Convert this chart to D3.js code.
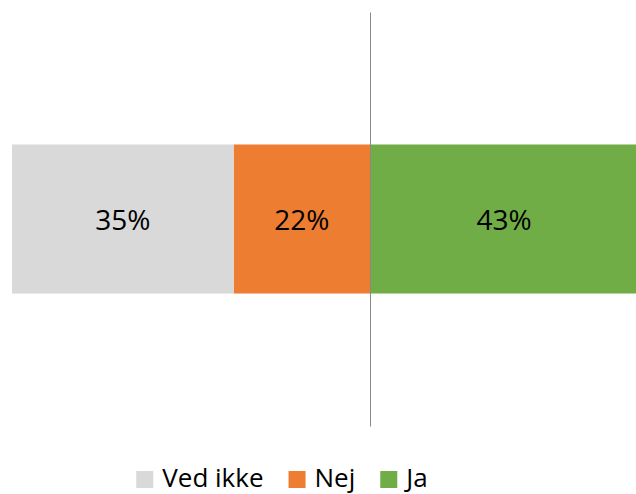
<!DOCTYPE html>
<html>
<head>
<meta charset="utf-8">
<script src="https://cdn.jsdelivr.net/npm/d3@7"></script>
<style>
  body { margin: 0; background: #fff; }
  svg { display: block; font-family: "Open Sans", sans-serif; }
</style>
</head>
<body>
<svg width="636" height="494"></svg>
<script>
// data
var categories = ["Ved ikke", "Nej", "Ja"];
var values = [35.4, 21.8, 42.8];
var labels = ["35%", "22%", "43%"];
var colors = ["#D9D9D9", "#ED7D31", "#70AD47"];
// Ved ikke and Nej go left of the axis, Ja goes right
var sides = [-1, -1, 1];

var svg = d3.select("svg");

// build stacked start/end for each segment
var segs = [];
var neg = 0, pos = 0;
// Nej sits next to the axis, Ved ikke outside it
[1, 0, 2].forEach(function(i) {
  var s;
  if (sides[i] < 0) { s = { x0: neg - values[i], x1: neg }; neg -= values[i]; }
  else { s = { x0: pos, x1: pos + values[i] }; pos += values[i]; }
  s.i = i;
  segs.push(s);
});

//--------------------------- SCALES ---------------------------
var x = d3.scaleLinear()
  .domain([neg, pos])
  .range([12, 638]);

var y = d3.scaleBand()
  .domain(["q"])
  .range([12, 426])
  .paddingInner(0)
  .paddingOuter(0.889);

//--------------------------- BARS -----------------------------
svg.selectAll("rect.bar")
  .data(segs)
  .enter().append("rect")
    .attr("class", "bar")
    .attr("x", function(d) { return x(d.x0); })
    .attr("y", y("q"))
    .attr("width", function(d) { return x(d.x1) - x(d.x0); })
    .attr("height", y.bandwidth())
    .style("fill", function(d) { return colors[d.i]; });

svg.selectAll("text.lbl")
  .data(segs)
  .enter().append("text")
    .attr("class", "lbl")
    .attr("x", function(d) { return (x(d.x0) + x(d.x1)) / 2; })
    .attr("y", y("q") + y.bandwidth() / 2 + 11)
    .attr("text-anchor", "middle")
    .attr("font-size", "28px")
    .attr("fill", "#000")
    .text(function(d) { return labels[d.i]; });

//--------------------------- AXIS -----------------------------
var axis = svg.append("g")
  .attr("transform", "translate(" + Math.round(x(0)) + ",0)")
  .call(d3.axisLeft(y).tickSize(0).tickFormat(""));
axis.select(".domain").attr("stroke", "#898989").attr("stroke-width", 1);

//--------------------------- LEGEND ---------------------------
var legend = svg.append("g");
var cx = 0;
categories.forEach(function(c, i) {
  var item = legend.append("g").attr("transform", "translate(" + cx + ",0)");
  item.append("rect")
    .attr("x", 0).attr("y", 471)
    .attr("width", 17).attr("height", 17)
    .style("fill", colors[i]);
  var t = item.append("text")
    .attr("x", 26).attr("y", 487)
    .attr("font-size", "26px")
    .attr("fill", "#000")
    .text(c);
  cx += 26 + t.node().getComputedTextLength() + 25;
});
var lw = cx - 25;
legend.attr("transform", "translate(" + (282 - lw / 2) + ",0)");
</script>
</body>
</html>
